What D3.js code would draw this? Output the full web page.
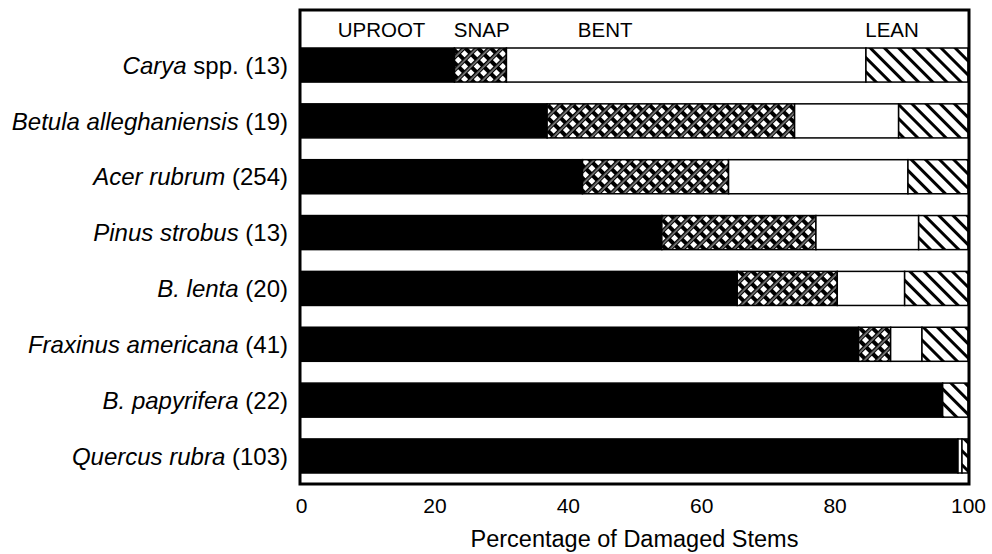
<!DOCTYPE html>
<html>
<head>
<script src="https://d3js.org/d3.v7.min.js"></script>
<style>
  body { margin: 0; background: #fff; }
  svg { display: block; font-family: "Liberation Sans", Arial, Helvetica, sans-serif; }
</style>
</head>
<body>
<svg id="chart" width="992" height="554"></svg>
<script>
// species (italic part), upright qualifier, number of damaged stems
const names = ["Carya", "Betula alleghaniensis", "Acer rubrum", "Pinus strobus",
               "B. lenta", "Fraxinus americana", "B. papyrifera", "Quercus rubra"];
const qualifiers = ["spp.", "", "", "", "", "", "", ""];
const counts = [13, 19, 254, 13, 20, 41, 22, 103];

// percent of damaged stems by damage type
const uproot = [23.0, 36.9, 42.2, 54.1, 65.4, 83.6, 96.2, 98.5];
const snap   = [ 7.8, 37.1, 21.9, 23.1, 15.0,  4.8,  0.0,  0.0];
const bent   = [53.9, 15.6, 26.9, 15.4, 10.1,  4.7,  0.0,  0.6];
const lean   = [15.3, 10.4,  9.0,  7.4,  9.5,  6.9,  3.8,  0.9];

const damageTypes = ["UPROOT", "SNAP", "BENT", "LEAN"];
const headerAt = [5.5, 22.9, 41.5, 84.6];   // where the header words start (percent)
const xTicks = [0, 20, 40, 60, 80, 100];

const keys = ["uproot", "snap", "bent", "lean"];
const rows = names.map((n, i) => ({
    name: n, uproot: uproot[i], snap: snap[i], bent: bent[i], lean: lean[i]
}));

const svg = d3.select("#chart");

const plotLeft = 301, plotRight = 968, plotTop = 10, plotBottom = 484;

const x = d3.scaleLinear().domain([0, 100]).range([plotLeft, plotRight]);
const y = d3.scaleBand().domain(names).range([48, 473]).paddingInner(0.39).paddingOuter(0);

// fill patterns
const defs = svg.append("defs");
const hatch = defs.append("pattern")
    .attr("id", "hatch")
    .attr("patternUnits", "userSpaceOnUse")
    .attr("width", 10).attr("height", 10)
    .attr("patternTransform", "rotate(-45)");
hatch.append("rect").attr("width", 10).attr("height", 10).attr("fill", "#fff");
hatch.append("rect").attr("width", 3).attr("height", 10).attr("fill", "#000");

// cross hatch: thick black diagonals leaving white diamonds
const cs = 9;
const cross = defs.append("pattern")
    .attr("id", "cross")
    .attr("patternUnits", "userSpaceOnUse")
    .attr("width", cs).attr("height", cs)
    .attr("patternTransform", "rotate(45)");
cross.append("rect").attr("width", cs).attr("height", cs).attr("fill", "#fff");
cross.append("rect").attr("width", 4).attr("height", cs).attr("fill", "#000");
cross.append("rect").attr("width", cs).attr("height", 4).attr("fill", "#000");
cross.append("rect").attr("x", 1.7).attr("width", 0.8).attr("height", cs).attr("fill", "#fff");

const fills = { uproot: "#000", snap: "url(#cross)", bent: "#fff", lean: "url(#hatch)" };

const stacked = d3.stack().keys(keys)(rows);

svg.append("g")
  .selectAll("g")
  .data(stacked)
  .join("g")
    .attr("fill", d => fills[d.key])
  .selectAll("rect")
  .data(d => d.filter(s => s[1] - s[0] > 0))
  .join("rect")
    .attr("x", d => x(d[0]))
    .attr("y", d => y(d.data.name))
    .attr("width", d => x(d[1]) - x(d[0]))
    .attr("height", y.bandwidth())
    .attr("stroke", "#000")
    .attr("stroke-width", 1.5);

// frame
svg.append("rect")
    .attr("x", plotLeft - 1).attr("y", plotTop)
    .attr("width", plotRight - plotLeft + 2).attr("height", plotBottom - plotTop)
    .attr("fill", "none")
    .attr("stroke", "#000")
    .attr("stroke-width", 3);

// damage type headers
svg.append("g")
  .selectAll("text")
  .data(damageTypes)
  .join("text")
    .attr("x", (d, i) => x(headerAt[i]))
    .attr("y", 37)
    .attr("font-size", 20.5)
    .text(d => d);

// species labels
const labels = svg.append("g")
  .selectAll("text")
  .data(names)
  .join("text")
    .attr("x", plotLeft - 13)
    .attr("y", d => y(d) + y.bandwidth() / 2)
    .attr("dy", "0.36em")
    .attr("text-anchor", "end")
    .attr("font-size", 24);
labels.append("tspan")
    .attr("font-style", "italic")
    .text(d => d);
labels.append("tspan")
    .text((d, i) => (qualifiers[i] ? " " + qualifiers[i] : "") + " (" + counts[i] + ")");

// x axis labels
const axis = svg.append("g")
    .attr("transform", `translate(0,${plotBottom})`)
    .call(d3.axisBottom(x).tickValues(xTicks).tickSize(0).tickPadding(14));
axis.select(".domain").remove();
axis.selectAll("text")
    .attr("font-family", "Liberation Sans, Arial, sans-serif")
    .attr("font-size", 21)
    .attr("fill", "#000");

svg.append("text")
    .attr("x", (plotLeft + plotRight) / 2)
    .attr("y", 547)
    .attr("text-anchor", "middle")
    .attr("font-size", 23.5)
    .text("Percentage of Damaged Stems");
</script>
</body>
</html>
